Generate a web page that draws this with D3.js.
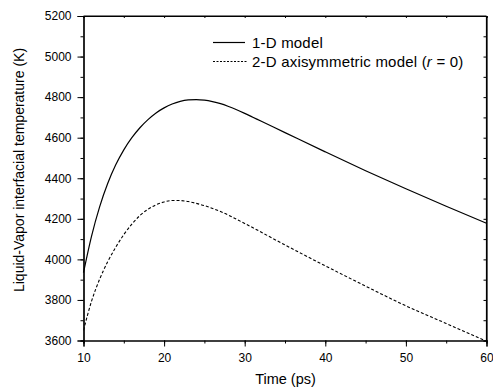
<!DOCTYPE html>
<html>
<head>
<meta charset="utf-8">
<script src="https://cdn.jsdelivr.net/npm/d3@7"></script>
<style>
  body { margin: 0; background: #fff; }
  svg { display: block; font-family: "Liberation Sans", Arial, sans-serif; }
</style>
</head>
<body>
<svg id="chart" width="493" height="387"></svg>
<script>
// Data (time in ps, temperature in K)
const time1D = [10, 11, 12, 13, 14, 15, 16, 17, 18, 19, 20, 21, 22, 23, 24, 25, 26, 27, 28, 29, 30, 31, 32, 35, 40, 45, 50, 55, 60];
const temp1D = [3935, 4115, 4259, 4374, 4466, 4540, 4600, 4649, 4689, 4722, 4747, 4766, 4779, 4786, 4788, 4785, 4778, 4768, 4754, 4738, 4720, 4701, 4682, 4625, 4530, 4437, 4348, 4262, 4178];
const time2D = [10, 11, 12, 13, 14, 15, 16, 17, 18, 19, 20, 21, 22, 23, 24, 25, 27, 30, 35, 40, 45, 50, 55, 60];
const temp2D = [3650, 3794, 3902, 3988, 4060, 4122, 4174, 4216, 4247, 4269, 4283, 4290, 4290, 4285, 4276, 4265, 4236, 4177, 4071, 3968, 3868, 3771, 3684, 3596];
const xTicks = [10, 20, 30, 40, 50, 60];
const yTicks = [3600, 3800, 4000, 4200, 4400, 4600, 4800, 5000, 5200];
const seriesNames = ["1-D model", "2-D axisymmetric model ("];

const svg = d3.select("#chart");
const L = 83.5, R = 486.5, T = 16, B = 340.5;
const x = d3.scaleLinear().domain([10, 60]).range([L, R]);
const y = d3.scaleLinear().domain([3600, 5200]).range([B, T]);

const minorX = d3.range(10, 60.01, 5);
const minorY = d3.range(3600, 5200.01, 100);

svg.append("defs").append("clipPath").attr("id", "plot")
  .append("rect").attr("x", L).attr("y", T).attr("width", R - L).attr("height", B - T);

// Bottom axis (outward ticks)
const gB = svg.append("g").attr("transform", `translate(0,${B})`);
gB.call(d3.axisBottom(x).tickValues(minorX).tickSize(3).tickFormat(""));
gB.append("g").call(d3.axisBottom(x).tickValues(xTicks).tickSize(6).tickPadding(7).tickFormat(d3.format("d")));
// Left axis
const gL = svg.append("g").attr("transform", `translate(${L},0)`);
gL.call(d3.axisLeft(y).tickValues(minorY).tickSize(3).tickFormat(""));
gL.append("g").call(d3.axisLeft(y).tickValues(yTicks).tickSize(6).tickPadding(6).tickFormat(d3.format("d")));
// Top axis (inward minor ticks)
const gT = svg.append("g").attr("transform", `translate(0,${T})`);
gT.call(d3.axisBottom(x).tickValues(minorX).tickSize(2).tickFormat(""));
// Right axis (inward ticks)
const gR = svg.append("g").attr("transform", `translate(${R},0)`);
gR.call(d3.axisLeft(y).tickValues(minorY).tickSize(3).tickFormat(""));

svg.selectAll(".domain").attr("stroke", "#000").attr("stroke-width", 1.2);
svg.selectAll(".tick line").attr("stroke", "#000");
svg.selectAll(".tick text").attr("font-size", 12).attr("fill", "#000")
   .attr("font-family", "'Liberation Sans', Arial, sans-serif");
// Frame lines
svg.append("line").attr("x1", L).attr("x2", R).attr("y1", T).attr("y2", T).attr("stroke", "#000").attr("stroke-width", 1.2);
svg.append("line").attr("x1", R).attr("x2", R).attr("y1", T).attr("y2", B).attr("stroke", "#000").attr("stroke-width", 1.2);

const line = d3.line().x(d => x(d[0])).y(d => y(d[1])).curve(d3.curveMonotoneX);
svg.append("path").datum(time1D.map((t, i) => [t, temp1D[i]]))
  .attr("d", line).attr("fill", "none").attr("stroke", "#000").attr("stroke-width", 1.2);
svg.append("path").datum(time2D.map((t, i) => [t, temp2D[i]]))
  .attr("clip-path", "url(#plot)")
  .attr("d", line).attr("fill", "none").attr("stroke", "#000").attr("stroke-width", 1.1)
  .attr("stroke-dasharray", "3,2");

// Legend
const lg = svg.append("g");
lg.append("line").attr("x1", 213).attr("x2", 245).attr("y1", 42.5).attr("y2", 42.5).attr("stroke", "#000").attr("stroke-width", 1.2);
lg.append("line").attr("x1", 213).attr("x2", 248).attr("y1", 61.5).attr("y2", 61.5).attr("stroke", "#000").attr("stroke-width", 1.1).attr("stroke-dasharray", "2,1.5");
lg.append("text").attr("x", 252).attr("y", 47.5).attr("font-size", 15).attr("letter-spacing", 0.2).text(seriesNames[0]);
const t2 = lg.append("text").attr("x", 252).attr("y", 66.5).attr("font-size", 15).attr("letter-spacing", 0.2);
t2.append("tspan").text(seriesNames[1]);
t2.append("tspan").attr("font-style", "italic").text("r");
t2.append("tspan").text(" = 0)");

// Axis titles
svg.append("text").attr("x", 285.5).attr("y", 384).attr("text-anchor", "middle").attr("font-size", 14.5).text("Time (ps)");
svg.append("text").attr("transform", `translate(24,170) rotate(-90)`).attr("text-anchor", "middle")
  .attr("font-size", 14).text("Liquid-Vapor interfacial temperature (K)");
</script>
</body>
</html>
